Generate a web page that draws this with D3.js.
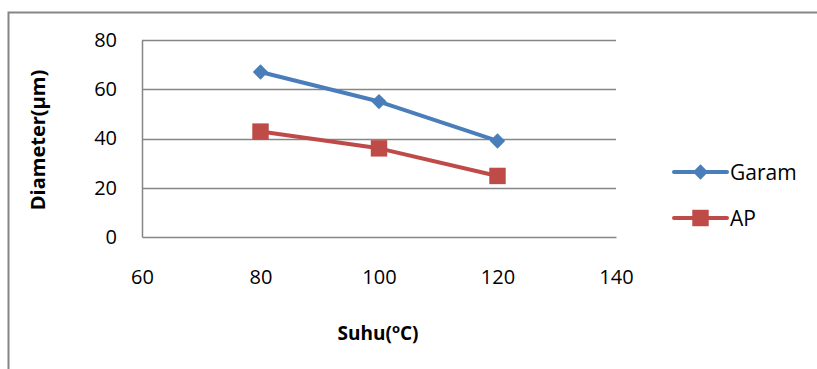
<!DOCTYPE html>
<html><head><meta charset="utf-8">
<script src="https://cdn.jsdelivr.net/npm/d3@7"></script>
<style>body{margin:0;background:#fff;} text{font-family:"Open Sans","Noto Sans",sans-serif;}</style>
</head><body>
<svg id="c" width="817" height="369"></svg>
<script>
const temps = [80, 100, 120];
const garam = [67, 55, 39];
const ap = [42.8, 36, 24.8];
const xTicks = [60, 80, 100, 120, 140];
const yTicks = [0, 20, 40, 60, 80];
const seriesNames = ["Garam", "AP"];
const colors = ["#4A7EBB", "#BE4B48"];

const svg = d3.select("#c");
const grey = "#868686";
// outer frame
svg.append("path").attr("d","M8.5,369 L8.5,12.5 L817,12.5").attr("fill","none").attr("stroke",grey).attr("stroke-width",2);

const x = d3.scaleLinear().domain([60,140]).range([142,616]);
const y = d3.scaleLinear().domain([0,80]).range([237,40]);

// gridlines
svg.append("g").selectAll("line").data(yTicks.filter(d=>d>0)).join("line")
  .attr("x1",x(60)).attr("x2",x(140)).attr("y1",d=>Math.round(y(d))+0.5).attr("y2",d=>Math.round(y(d))+0.5)
  .attr("stroke",grey).attr("stroke-width",1.5);

// y axis
const ya = svg.append("g").attr("transform",`translate(${x(60)},0)`)
  .call(d3.axisLeft(y).tickValues(yTicks).tickSize(0).tickPadding(25));
ya.select(".domain").attr("stroke",grey).attr("stroke-width",1.5);
ya.selectAll("text").attr("font-size",20).attr("fill","#000");
// x axis
const xa = svg.append("g").attr("transform",`translate(0,${y(0)})`)
  .call(d3.axisBottom(x).tickValues(xTicks).tickSize(0).tickPadding(33));
xa.select(".domain").attr("stroke",grey).attr("stroke-width",1.5);
xa.selectAll("text").attr("font-size",20).attr("fill","#000");

// axis titles
const xt = svg.append("text").attr("x",378).attr("y",340).attr("text-anchor","middle")
  .attr("font-size",19).attr("font-weight","bold");
xt.append("tspan").text("Suhu(");
xt.append("tspan").text("o").attr("font-size",13).attr("dy",-7);
xt.append("tspan").text("C)").attr("dy",7);
svg.append("text").attr("transform","translate(40,140) rotate(-90)").attr("text-anchor","middle")
  .attr("dominant-baseline","middle").attr("font-size",20).attr("font-weight","bold").text("Diameter(μm)");

const data = [garam, ap];
const line = d3.line().x((d,i)=>x(temps[i])).y(d=>y(d));
const diamond = d3.symbol().type(d3.symbolDiamond2).size(150);
const square = d3.symbol().type(d3.symbolSquare).size(270);
data.forEach((vals,k)=>{
  svg.append("path").datum(vals).attr("d",line).attr("fill","none")
    .attr("stroke",colors[k]).attr("stroke-width",4).attr("stroke-linejoin","round");
  svg.append("g").selectAll("path").data(vals).join("path")
    .attr("transform",(d,i)=>`translate(${x(temps[i])},${y(d)})`)
    .attr("d", k===0 ? diamond() : square()).attr("fill",colors[k]);
});

// legend
const ly = [172, 218];
seriesNames.forEach((n,k)=>{
  const g = svg.append("g");
  g.append("line").attr("x1",674).attr("x2",727).attr("y1",ly[k]).attr("y2",ly[k])
    .attr("stroke",colors[k]).attr("stroke-width",4).attr("stroke-linecap","round");
  g.append("path").attr("transform",`translate(700.5,${ly[k]})`)
    .attr("d", k===0 ? diamond() : square()).attr("fill",colors[k]);
  g.append("text").attr("x",730).attr("y",ly[k]).attr("dominant-baseline","central")
    .attr("font-size",21).text(n);
});
</script>
</body></html>
